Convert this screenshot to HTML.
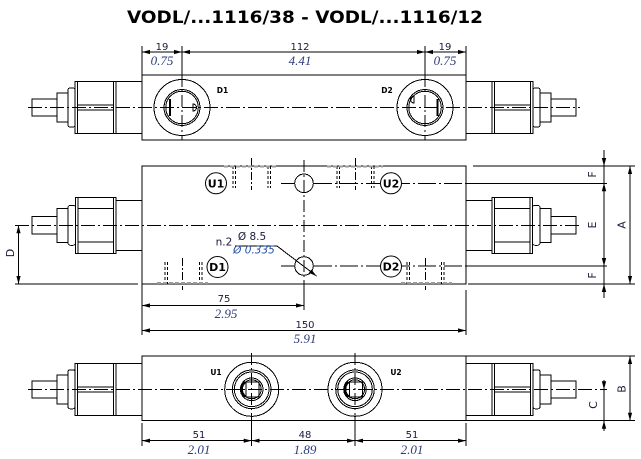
<!DOCTYPE html>
<html><head><meta charset="utf-8"><style>
html,body{margin:0;padding:0;background:#fff;}
svg{display:block;}
.n{font-family:"DejaVu Sans","Liberation Sans",sans-serif;font-size:10px;fill:#1a1a3a;text-anchor:middle;}
.i{font-family:"Liberation Serif",serif;font-style:italic;font-size:13px;fill:#2b3a7a;text-anchor:middle;}
.L{font-family:"DejaVu Sans","Liberation Sans",sans-serif;font-size:11px;fill:#1a1a3a;text-anchor:middle;}
.b{font-family:"DejaVu Sans","Liberation Sans",sans-serif;font-weight:bold;font-size:11px;fill:#000;text-anchor:middle;}
.s{font-family:"DejaVu Sans","Liberation Sans",sans-serif;font-weight:bold;font-size:7.5px;fill:#000;text-anchor:middle;}
.io{font-family:"DejaVu Sans","Liberation Sans",sans-serif;font-style:italic;font-size:10.5px;fill:#2450a8;text-anchor:middle;}
</style></head><body>
<svg width="641" height="459" viewBox="0 0 641 459" xmlns="http://www.w3.org/2000/svg">
<defs>
<marker id="ar" markerUnits="userSpaceOnUse" markerWidth="8" markerHeight="6" refX="8" refY="3" orient="auto-start-reverse"><path d="M0,0.9 L8,3 L0,5.1z" fill="#000"/></marker>
<g id="vA" fill="none" stroke="#000" stroke-width="1">
<rect x="32" y="-8.5" width="25" height="17"/>
<rect x="57" y="-14.5" width="11" height="29"/>
<rect x="68" y="-19.5" width="7" height="39" rx="2"/>
<rect x="75" y="-26" width="41" height="52"/>
<line x1="77.5" y1="-26" x2="77.5" y2="26"/>
<line x1="113.5" y1="-26" x2="113.5" y2="26"/>
<line x1="77.5" y1="-2.5" x2="113.5" y2="-2.5"/>
<line x1="77.5" y1="2.5" x2="113.5" y2="2.5"/>
<line x1="116" y1="-26" x2="142" y2="-26"/>
<line x1="116" y1="26" x2="142" y2="26"/>
</g>
<g id="vB" fill="none" stroke="#000" stroke-width="1">
<rect x="32" y="-9" width="25" height="17.5"/>
<rect x="57" y="-17" width="11" height="34"/>
<rect x="68" y="-20" width="7.5" height="40" rx="2.5"/>
<rect x="75.5" y="-28" width="40.5" height="56"/>
<line x1="78" y1="-28" x2="78" y2="28"/>
<line x1="113.5" y1="-28" x2="113.5" y2="28"/>
<line x1="78" y1="-16.7" x2="113.5" y2="-16.7"/>
<line x1="78" y1="16.7" x2="113.5" y2="16.7"/>
<line x1="116" y1="-25" x2="142" y2="-25"/>
<line x1="116" y1="25" x2="142" y2="25"/>
</g>
<g id="port" fill="none" stroke="#000" stroke-width="1">
<circle cx="0" cy="0" r="27"/>
<circle cx="0" cy="0" r="19.3"/>
<circle cx="0" cy="0" r="17.3"/>
<circle cx="0" cy="0" r="11.3"/>
<circle cx="0" cy="0" r="9.5"/>
<path d="M-6.5,-7.2 A9.5,9.5 0 0 0 -6.5,7.2" stroke-width="2.2"/>
<rect x="-5.5" y="-7.5" width="13" height="15"/>
</g>
</defs>

<!-- Title -->
<text x="305" y="23" font-family="DejaVu Sans, Liberation Sans, sans-serif" font-weight="bold" font-size="17" text-anchor="middle" textLength="356" lengthAdjust="spacingAndGlyphs" fill="#000">VODL/...1116/38 - VODL/...1116/12</text>

<g fill="none" stroke="#000" stroke-width="1" shape-rendering="crispEdges">
<!-- ===== TOP VIEW ===== -->
<rect x="142" y="75" width="324" height="65"/>
<use href="#vA" transform="translate(0,107.5)"/>
<use href="#vA" transform="translate(608,107.5) scale(-1,1)"/>
<line x1="28" y1="107.5" x2="580" y2="107.5" stroke-dasharray="14 3 2 3"/>
<!-- D1 -->
<circle cx="182" cy="107.5" r="28"/>
<circle cx="182" cy="107.5" r="18"/>
<circle cx="182" cy="107.5" r="16.3"/>
<line x1="170" y1="99" x2="170" y2="116" stroke-width="1.6"/>
<path d="M193,104 a3.5,3.5 0 0 1 0,7 z"/>
<!-- D2 -->
<circle cx="425" cy="107.5" r="28"/>
<circle cx="425" cy="107.5" r="18"/>
<circle cx="425" cy="107.5" r="16.3"/>
<line x1="437.5" y1="99" x2="437.5" y2="116" stroke-width="1.6"/>
<path d="M414,96 a3.5,3.5 0 0 0 0,7 z"/>
<!-- extension lines -->
<line x1="142" y1="46" x2="142" y2="75"/>
<line x1="466" y1="46" x2="466" y2="75"/>
<line x1="182" y1="46" x2="182" y2="75"/>
<line x1="182" y1="75" x2="182" y2="140" stroke-dasharray="12 3 2 3"/>
<line x1="425" y1="46" x2="425" y2="75"/>
<line x1="425" y1="75" x2="425" y2="140" stroke-dasharray="12 3 2 3"/>
<!-- dims -->
<line x1="142" y1="52" x2="182" y2="52" marker-start="url(#ar)" marker-end="url(#ar)"/>
<line x1="182" y1="52" x2="425" y2="52" marker-start="url(#ar)" marker-end="url(#ar)"/>
<line x1="425" y1="52" x2="466" y2="52" marker-start="url(#ar)" marker-end="url(#ar)"/>

<!-- ===== MIDDLE VIEW ===== -->
<rect x="142" y="166" width="324" height="118"/>
<use href="#vB" transform="translate(0,225.3)"/>
<use href="#vB" transform="translate(608,225.3) scale(-1,1)"/>
<line x1="15" y1="225.3" x2="580" y2="225.3" stroke-dasharray="14 3 2 3"/>
<!-- hole lines -->
<line x1="281" y1="183.3" x2="294" y2="183.3"/>
<line x1="314" y1="183.3" x2="466" y2="183.3" stroke-dasharray="18 3 2 3"/>
<line x1="466" y1="183.3" x2="607" y2="183.3"/>
<line x1="281" y1="266" x2="294" y2="266"/>
<line x1="314" y1="266" x2="466" y2="266" stroke-dasharray="18 3 2 3"/>
<line x1="466" y1="266" x2="607" y2="266"/>
<line x1="304" y1="160" x2="304" y2="284" stroke-dasharray="12 3 2 3"/>
<line x1="304" y1="284" x2="304" y2="310"/>
<circle cx="304" cy="183.3" r="9.3"/>
<circle cx="304" cy="266" r="9.3"/>
<!-- hidden ports -->
<g stroke-dasharray="3 2">
<line x1="233" y1="166" x2="233" y2="188"/><line x1="235.5" y1="166" x2="235.5" y2="188"/>
<line x1="268" y1="166" x2="268" y2="188"/><line x1="270.5" y1="166" x2="270.5" y2="188"/>
<line x1="337" y1="166" x2="337" y2="188"/><line x1="339.5" y1="166" x2="339.5" y2="188"/>
<line x1="371.5" y1="166" x2="371.5" y2="188"/><line x1="374" y1="166" x2="374" y2="188"/>
<line x1="165" y1="262" x2="165" y2="284"/><line x1="167.5" y1="262" x2="167.5" y2="284"/>
<line x1="199.5" y1="262" x2="199.5" y2="284"/><line x1="202" y1="262" x2="202" y2="284"/>
<line x1="407" y1="262" x2="407" y2="284"/><line x1="409.5" y1="262" x2="409.5" y2="284"/>
<line x1="441.5" y1="262" x2="441.5" y2="284"/><line x1="444" y1="262" x2="444" y2="284"/>
</g>
<g stroke-dasharray="8 2 2 2">
<line x1="251.7" y1="158" x2="251.7" y2="190"/>
<line x1="355.5" y1="158" x2="355.5" y2="190"/>
<line x1="182.5" y1="258" x2="182.5" y2="290"/>
<line x1="425.5" y1="258" x2="425.5" y2="290"/>
</g>
<g stroke="#9a9a9a" stroke-width="2" stroke-dasharray="4 2">
<line x1="224" y1="166.5" x2="278" y2="166.5"/>
<line x1="327" y1="166.5" x2="383" y2="166.5"/>
<line x1="157" y1="283" x2="208" y2="283"/>
<line x1="401" y1="283" x2="452" y2="283"/>
</g>
<!-- leader -->
<line x1="235" y1="246" x2="277" y2="246"/>
<line x1="277" y1="246" x2="316.5" y2="276" marker-end="url(#ar)"/>
<!-- D dim -->
<line x1="15" y1="284" x2="138" y2="284"/>
<line x1="18.5" y1="225.3" x2="18.5" y2="284" marker-start="url(#ar)" marker-end="url(#ar)"/>
<!-- right dims -->
<line x1="473" y1="166" x2="635" y2="166"/>
<line x1="468" y1="284" x2="635" y2="284"/>
<line x1="604" y1="150" x2="604" y2="298"/>
<line x1="630" y1="166" x2="630" y2="284" marker-start="url(#ar)" marker-end="url(#ar)"/>
<!-- 75 / 150 -->
<line x1="142" y1="284" x2="142" y2="335"/>
<line x1="466" y1="290" x2="466" y2="335"/>
<line x1="142" y1="305.5" x2="304" y2="305.5" marker-start="url(#ar)" marker-end="url(#ar)"/>
<line x1="142" y1="330.5" x2="466" y2="330.5" marker-start="url(#ar)" marker-end="url(#ar)"/>

<!-- ===== BOTTOM VIEW ===== -->
<rect x="142" y="356" width="324" height="64.7"/>
<use href="#vA" transform="translate(0,389.3)"/>
<use href="#vA" transform="translate(608,389.3) scale(-1,1)"/>
<line x1="28" y1="389.3" x2="607" y2="389.3" stroke-dasharray="14 3 2 3"/>
<use href="#port" transform="translate(251.7,389.3)"/>
<use href="#port" transform="translate(355,389.3)"/>
<line x1="251.7" y1="353" x2="251.7" y2="421" stroke-dasharray="12 3 2 3"/>
<line x1="251.7" y1="421" x2="251.7" y2="446"/>
<line x1="355" y1="353" x2="355" y2="421" stroke-dasharray="12 3 2 3"/>
<line x1="355" y1="421" x2="355" y2="446"/>
<line x1="142" y1="423" x2="142" y2="446"/>
<line x1="466" y1="423" x2="466" y2="446"/>
<line x1="142" y1="440.7" x2="251.7" y2="440.7" marker-start="url(#ar)" marker-end="url(#ar)"/>
<line x1="251.7" y1="440.7" x2="355" y2="440.7" marker-start="url(#ar)" marker-end="url(#ar)"/>
<line x1="355" y1="440.7" x2="466" y2="440.7" marker-start="url(#ar)" marker-end="url(#ar)"/>
<line x1="466" y1="356" x2="635" y2="356"/>
<line x1="466" y1="420.7" x2="635" y2="420.7"/>
<line x1="630" y1="356" x2="630" y2="420.7" marker-start="url(#ar)" marker-end="url(#ar)"/>
<line x1="604" y1="380" x2="604" y2="431"/>
</g>

<!-- manual arrowheads -->
<g fill="#000">
<polygon points="601.8,158 606.2,158 604,166"/>
<polygon points="601.8,191.3 606.2,191.3 604,183.3"/>
<polygon points="601.8,258 606.2,258 604,266"/>
<polygon points="601.8,292 606.2,292 604,284"/>
<polygon points="601.8,381.3 606.2,381.3 604,389.3"/>
<polygon points="601.8,428.7 606.2,428.7 604,420.7"/>
</g>

<!-- labeled circles middle view -->
<g fill="#fff" stroke="#000" stroke-width="1">
<circle cx="216" cy="183.3" r="10.5"/>
<circle cx="217.5" cy="267" r="10.5"/>
<circle cx="391" cy="183.3" r="10.5"/>
<circle cx="391" cy="266.5" r="10.5"/>
</g>
<text class="b" x="216" y="187.3">U1</text>
<text class="b" x="217.5" y="271">D1</text>
<text class="b" x="391" y="187.3">U2</text>
<text class="b" x="391" y="270.5">D2</text>

<!-- small labels -->
<text class="s" x="222.5" y="93">D1</text>
<text class="s" x="387" y="93">D2</text>
<text class="s" x="216" y="375">U1</text>
<text class="s" x="396" y="375">U2</text>

<!-- top dims text -->
<text class="n" x="162" y="50">19</text>
<text class="i" x="162" y="65">0.75</text>
<text class="n" x="300" y="50">112</text>
<text class="i" x="300" y="65">4.41</text>
<text class="n" x="445" y="50">19</text>
<text class="i" x="445" y="65">0.75</text>

<!-- hole callout -->
<text class="n" x="224" y="245.5" style="font-size:10.5px">n.2</text>
<text class="n" x="252" y="240" style="font-size:10.5px">Ø 8.5</text>
<text class="io" x="254" y="253.5">Ø 0.335</text>

<!-- rotated letters -->
<text class="L" transform="translate(14,253) rotate(-90)">D</text>
<text class="L" transform="translate(596,174.5) rotate(-90)">F</text>
<text class="L" transform="translate(596,225) rotate(-90)">E</text>
<text class="L" transform="translate(596,275.5) rotate(-90)">F</text>
<text class="L" transform="translate(625.5,225) rotate(-90)">A</text>
<text class="L" transform="translate(625.5,389) rotate(-90)">B</text>
<text class="L" transform="translate(597,405) rotate(-90)">C</text>

<!-- 75 / 150 text -->
<text class="n" x="224" y="302">75</text>
<text class="i" x="226" y="318">2.95</text>
<text class="n" x="305" y="328">150</text>
<text class="i" x="305" y="343">5.91</text>

<!-- bottom dims text -->
<text class="n" x="199" y="438">51</text>
<text class="i" x="199" y="454">2.01</text>
<text class="n" x="305" y="438">48</text>
<text class="i" x="305" y="454">1.89</text>
<text class="n" x="412" y="438">51</text>
<text class="i" x="412" y="454">2.01</text>
</svg>
</body></html>
